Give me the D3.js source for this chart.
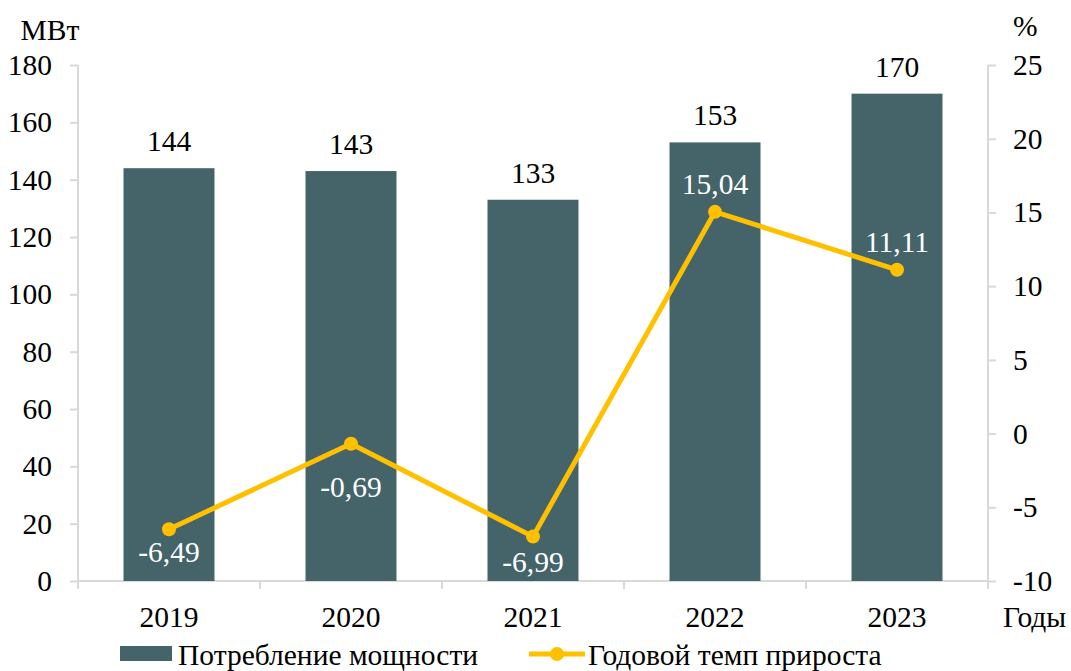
<!DOCTYPE html>
<html>
<head>
<meta charset="utf-8">
<script src="https://cdn.jsdelivr.net/npm/d3@7"></script>
<style>
  body { margin: 0; background: #fff; }
  svg text { font-family: "Liberation Serif", "Times New Roman", Tinos, "DejaVu Serif", serif !important; }
</style>
</head>
<body>
<svg id="chart" width="1071" height="671"></svg>
<script>
// data
const years = ["2019", "2020", "2021", "2022", "2023"];
const power = [144, 143, 133, 153, 170];
const growth = [-6.49, -0.69, -6.99, 15.04, 11.11];
const growthLabels = ["-6,49", "-0,69", "-6,99", "15,04", "11,11"];
const leftTicks = [0, 20, 40, 60, 80, 100, 120, 140, 160, 180];
const rightTicks = [-10, -5, 0, 5, 10, 15, 20, 25];

// label offset from the point (px), as placed in the original
const labelDy = [33, 53, 35, -18, -18];

function draw() {
    const svg = d3.select("#chart");
    const left = 78, right = 988, top = 65, bottom = 581;
    const barColor = "#44646a", lineColor = "#ffc000", axisColor = "#d9d9d9";
    const fs = 29.5;

    const x = d3.scaleBand().domain(years).range([left, right]).paddingInner(0.5).paddingOuter(0.25);
    const xb = d3.scaleBand().domain(years).range([left, right]);
    const yL = d3.scaleLinear().domain([0, 180]).range([bottom, top]);
    const yR = d3.scaleLinear().domain([-10, 25]).range([bottom, top]);

    // left axis
    const gl = svg.append("g").attr("transform", `translate(${left},0)`)
        .call(d3.axisLeft(yL).tickValues(leftTicks).tickSize(8).tickPadding(18));
    // right axis (plain hyphen for minus, like the original)
    const gr = svg.append("g").attr("transform", `translate(${right},0)`)
        .call(d3.axisRight(yR).tickValues(rightTicks).tickFormat(d => String(d)).tickSize(8).tickPadding(17));
    // bottom axis with ticks at category boundaries
    const gb = svg.append("g").attr("transform", `translate(0,${bottom})`)
        .call(d3.axisBottom(xb).tickSize(0).tickPadding(25));
    gb.selectAll(".bnd").data(d3.range(years.length + 1)).join("line")
        .attr("x1", i => left + i * xb.step()).attr("x2", i => left + i * xb.step())
        .attr("y1", 0).attr("y2", 8).attr("stroke", axisColor).attr("stroke-width", 2);

    [gl, gr, gb].forEach(g => {
        g.attr("font-family", null);
        g.select(".domain").attr("stroke", axisColor).attr("stroke-width", 2);
        g.selectAll(".tick line").attr("stroke", axisColor).attr("stroke-width", 2);
        g.selectAll("text").attr("font-size", fs).attr("fill", "#000");
    });
    gl.select(".domain").attr("d", `M0,${top}V${bottom}`);
    gr.select(".domain").attr("d", `M0,${top}V${bottom}`);
    gb.select(".domain").attr("d", `M${left},0H${right}`);

    // bars
    svg.selectAll(".bar").data(power).join("rect")
        .attr("class", "bar")
        .attr("x", (d, i) => x(years[i]))
        .attr("y", d => yL(d))
        .attr("width", x.bandwidth())
        .attr("height", d => bottom - yL(d))
        .attr("fill", barColor);

    svg.selectAll(".blabel").data(power).join("text")
        .attr("x", (d, i) => x(years[i]) + x.bandwidth() / 2)
        .attr("y", d => yL(d) - 17)
        .attr("text-anchor", "middle").attr("font-size", fs)
        .text(d => d);

    // line
    const cx = i => x(years[i]) + x.bandwidth() / 2;
    const line = d3.line().x((d, i) => cx(i)).y(d => yR(d));
    svg.append("path").datum(growth)
        .attr("d", line).attr("fill", "none")
        .attr("stroke", lineColor).attr("stroke-width", 5).attr("stroke-linejoin", "round");
    svg.selectAll(".pt").data(growth).join("circle")
        .attr("cx", (d, i) => cx(i)).attr("cy", d => yR(d)).attr("r", 7)
        .attr("fill", lineColor);
    svg.selectAll(".glabel").data(growth).join("text")
        .attr("x", (d, i) => cx(i))
        .attr("y", (d, i) => yR(d) + labelDy[i])
        .attr("text-anchor", "middle").attr("font-size", fs).attr("fill", "#fff")
        .text((d, i) => growthLabels[i]);

    // axis titles
    svg.append("text").attr("x", 50).attr("y", 40).attr("text-anchor", "middle")
        .attr("font-size", fs).text("МВт");
    svg.append("text").attr("x", 1013).attr("y", 36)
        .attr("font-size", fs).text("%");
    svg.append("text").attr("x", 1003).attr("y", 627)
        .attr("font-size", fs).text("Годы");

    // legend
    const lg = svg.append("g");
    lg.append("rect").attr("x", 120).attr("y", 646).attr("width", 52).attr("height", 15).attr("fill", barColor);
    lg.append("text").attr("x", 178).attr("y", 665).attr("font-size", fs).text("Потребление мощности");
    lg.append("line").attr("x1", 529).attr("x2", 585).attr("y1", 654).attr("y2", 654)
        .attr("stroke", lineColor).attr("stroke-width", 5);
    lg.append("circle").attr("cx", 557).attr("cy", 654).attr("r", 7).attr("fill", lineColor);
    lg.append("text").attr("x", 588).attr("y", 665).attr("font-size", fs).text("Годовой темп прироста");
}

window.onload = draw;
</script>
</body>
</html>
